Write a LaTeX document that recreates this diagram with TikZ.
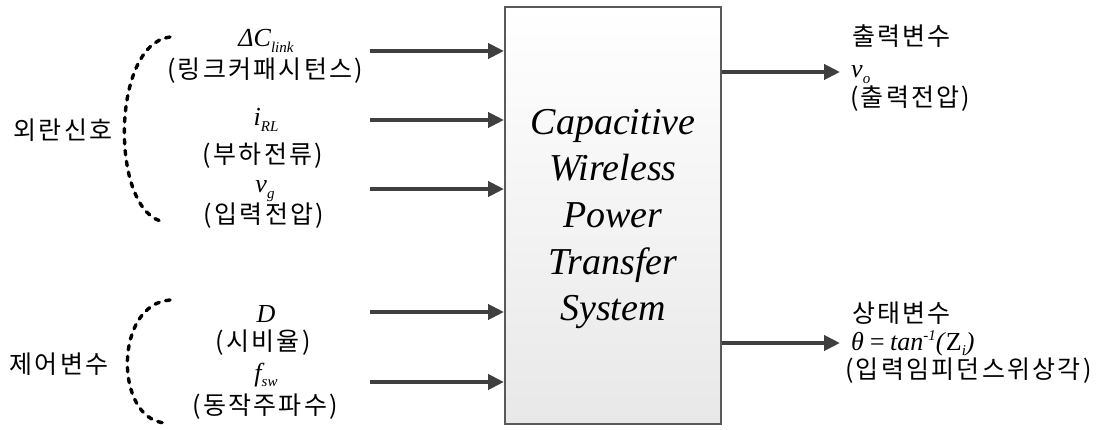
\documentclass[tikz,border=0pt]{standalone}
\usepackage{fontspec}
\setmainfont{Liberation Serif}
\newfontfamily\kr[LetterSpace=9]{Noto Sans CJK KR}
\usetikzlibrary{arrows.meta}
\definecolor{arrowgray}{HTML}{3F3F3F}
\definecolor{boxgray}{HTML}{595959}
\definecolor{boxbottom}{HTML}{E8E8E8}
% small lowered index / raised exponent for italic symbols
\newcommand\lsub[1]{\raisebox{-0.2em}{\fontsize{15}{15}\selectfont #1}}
\newcommand\hsup[1]{\raisebox{0.35em}{\fontsize{15}{15}\selectfont #1}}
\begin{document}
\begin{tikzpicture}[x=1pt,y=-1pt,
  krtext/.style={font=\kr\fontsize{25}{27}\selectfont, inner sep=0},
  mtext/.style={font=\fontsize{26}{28}\selectfont\itshape, inner sep=0, anchor=base},
  flow/.style={draw=arrowgray, line width=4pt, -{Triangle[length=16pt,width=15pt]}},
  brace/.style={draw=black, line width=3.4pt, dash pattern=on 4.5pt off 6.5pt, line cap=round}]
\useasboundingbox (0,0) rectangle (1119,430);

% central system block
\node[draw=boxgray, line width=2pt, top color=white, bottom color=boxbottom,
      minimum width=216pt, minimum height=417pt, inner sep=0] (sys) at (613,215.5) {};
\node[font=\fontsize{38}{46.7}\selectfont\itshape, align=center, inner sep=0] (title)
      at (613,219) {Capacitive\\Wireless\\Power\\Transfer\\System};

% disturbance inputs
\node[mtext] (m1) at (266,47) {ΔC\lsub{link}};
\node[krtext] (k1) at (265,71) {(링크커패시턴스)};
\node[mtext] (m2) at (266,126) {i\lsub{RL}};
\node[krtext] (k2) at (263,156) {(부하전류)};
\node[mtext] (m3) at (265,193) {v\lsub{g}};
\node[krtext] (k3) at (264,216) {(입력전압)};
% control inputs
\node[mtext] (m4) at (266,323) {D};
\node[krtext] (k4) at (263,343) {(시비율)};
\node[mtext] (m5) at (266,381) {f\lsub{sw}};
\node[krtext] (k5) at (265,407) {(동작주파수)};

% group labels with dashed brackets
\node[krtext] (g1) at (63,130) {외란신호};
\node[krtext] (g2) at (59,364) {제어변수};
\coordinate (b1t) at (170,37);
\coordinate (b1b) at (165,222);
\coordinate (b2t) at (170,300);
\coordinate (b2b) at (165,423);
\draw[brace] (b1t) .. controls (110,44) and (110,215) .. (b1b);
\draw[brace] (b2t) .. controls (114,304) and (114,419) .. (b2b);

% input arrows
\coordinate (t1) at (370,51);
\coordinate (t2) at (370,120);
\coordinate (t3) at (370,189);
\coordinate (t4) at (370,312);
\coordinate (t5) at (370,382);
\foreach \t in {t1,t2,t3,t4,t5}
  \draw[flow] (\t) -- (\t -| sys.west);

% outputs
\coordinate (o1) at (840,72);
\coordinate (o2) at (840,343);
\draw[flow] (sys.east |- o1) -- (o1);
\draw[flow] (sys.east |- o2) -- (o2);

\node[krtext, anchor=west] (r1) at (852,36) {출력변수};
\node[mtext, anchor=base west] (v1) at (851,78) {v\lsub{o}};
\node[krtext, anchor=west] (r1k) at (850,99) {(출력전압)};
\node[krtext, anchor=west] (r2) at (852,313) {상태변수};
\node[mtext, anchor=base west] (v2) at (851,350)
      {θ\,=\,tan\hsup{-1}(\textup{Z}\lsub{i})};
\node[krtext, anchor=west] (r2k) at (845,371) {(입력임피던스위상각)};
\end{tikzpicture}
\end{document}
